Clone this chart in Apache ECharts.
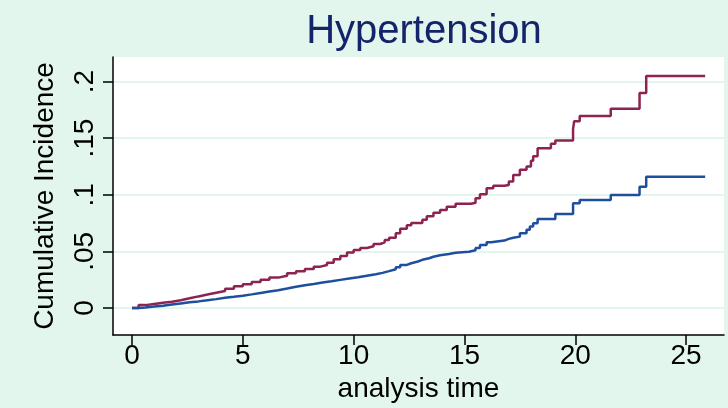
<!DOCTYPE html>
<html>
<head>
<meta charset="utf-8">
<script src="https://cdn.jsdelivr.net/npm/echarts@6/dist/echarts.min.js"></script>
<style>
  html, body { margin: 0; padding: 0; background: #e3f6ed; }
  #chart { width: 728px; height: 408px; }
</style>
</head>
<body>
<div id="chart"></div>
<script>
// Cumulative incidence curves (step functions)
const timeRed = [0, 0.3, 0.6, 1.0, 1.4, 1.8, 2.2, 2.6, 3.0, 3.4, 3.8, 4.2, 4.6, 5.0, 5.4, 5.8, 6.2, 6.6, 7.0, 7.4, 7.8, 8.2, 8.5, 8.8, 9.1, 9.4, 9.7, 10.0, 10.3, 10.6, 10.9, 11.2, 11.4, 11.6, 11.9, 12.1, 12.4, 12.6, 13.1, 13.3, 13.6, 13.9, 14.2, 14.6, 15.3, 15.5, 15.7, 16.0, 16.3, 16.8, 17.0, 17.2, 17.5, 17.8, 18.0, 18.1, 18.3, 18.9, 19.1, 19.9, 19.95, 20.2, 21.6, 22.9, 23.2, 25.86];
const valRed  = [0, 0.0025, 0.0035, 0.0045, 0.0055, 0.0068, 0.0085, 0.0102, 0.0118, 0.0135, 0.015, 0.017, 0.0192, 0.021, 0.023, 0.025, 0.0268, 0.0285, 0.0306, 0.0325, 0.0345, 0.0365, 0.038, 0.040, 0.043, 0.046, 0.049, 0.0512, 0.053, 0.0545, 0.0565, 0.058, 0.060, 0.062, 0.066, 0.070, 0.073, 0.075, 0.078, 0.081, 0.084, 0.0866, 0.0895, 0.092, 0.093, 0.097, 0.1004, 0.1057, 0.108, 0.1087, 0.1116, 0.1175, 0.122, 0.125, 0.130, 0.134, 0.141, 0.145, 0.148, 0.158, 0.165, 0.1696, 0.176, 0.190, 0.205, 0.205];

const timeBlue = [0, 0.3, 0.6, 1.0, 1.4, 1.8, 2.2, 2.6, 3.0, 3.4, 3.8, 4.2, 4.6, 5.0, 5.4, 5.8, 6.2, 6.6, 7.0, 7.4, 7.8, 8.2, 8.6, 9.0, 9.4, 9.8, 10.2, 10.6, 11.0, 11.3, 11.6, 11.9, 12.1, 12.4, 12.6, 12.9, 13.1, 13.4, 13.6, 13.9, 14.3, 14.6, 15.2, 15.5, 15.7, 16.0, 16.2, 16.8, 17.0, 17.2, 17.5, 17.8, 17.95, 18.1, 18.3, 19.1, 19.9, 20.2, 21.6, 22.9, 23.2, 25.86];
const valBlue  = [0, 0.0005, 0.0012, 0.002, 0.003, 0.004, 0.005, 0.0058, 0.0068, 0.0078, 0.009, 0.0098, 0.0108, 0.012, 0.0133, 0.0145, 0.0157, 0.0172, 0.0188, 0.020, 0.0212, 0.0225, 0.0236, 0.0248, 0.026, 0.0272, 0.0285, 0.0298, 0.031, 0.0325, 0.0342, 0.036, 0.038, 0.0395, 0.041, 0.0425, 0.0439, 0.0452, 0.0465, 0.0477, 0.0487, 0.0497, 0.051, 0.053, 0.0557, 0.058, 0.0595, 0.061, 0.062, 0.063, 0.066, 0.069, 0.072, 0.0748, 0.0786, 0.083, 0.0925, 0.0954, 0.0998, 0.107, 0.116, 0.116];

const xTicks = [0, 5, 10, 15, 20, 25];
const yTicks = [0, 0.05, 0.1, 0.15, 0.2];

const chart = echarts.init(document.getElementById('chart'));

const pairs = (ts, vs) => ts.map((t, i) => [t, vs[i]]);
const stataNum = v => (v === 0 ? '0' : String(v).replace(/^0/, ''));

const axisFont = { fontFamily: 'Liberation Sans', fontSize: 28, color: '#000' };

chart.setOption({
    backgroundColor: '#e3f6ed',
    animation: false,
    title: {
        text: 'Hypertension',
        left: 419,
        textAlign: 'center',
        top: 7,
        textStyle: { fontFamily: 'Liberation Sans', fontSize: 40, fontWeight: 'normal', color: '#13246b' }
    },
    grid: {
        left: 113, right: 4, top: 57, bottom: 73,
        outerBoundsMode: 'none',
        containLabel: false,
        show: true, backgroundColor: '#ffffff', borderWidth: 0
    },
    xAxis: {
        type: 'value',
        min: -0.857, max: 26.71,
        name: 'analysis time',
        nameLocation: 'middle',
        nameGap: 38,
        nameTextStyle: axisFont,
        axisLine: { show: true, onZero: false, lineStyle: { color: '#000', width: 1.5 } },
        axisTick: { show: true, length: 10, customValues: xTicks, lineStyle: { color: '#000', width: 1.5 } },
        axisLabel: { customValues: xTicks, margin: 7, ...axisFont },
        splitLine: { show: false }
    },
    yAxis: {
        type: 'value',
        min: -0.0239, max: 0.2217,
        name: 'Cumulative Incidence',
        nameLocation: 'middle',
        nameRotate: 90,
        nameGap: 54,
        nameTextStyle: axisFont,
        axisLine: { show: true, onZero: false, lineStyle: { color: '#000', width: 1.5 } },
        axisTick: { show: true, length: 10, customValues: yTicks, lineStyle: { color: '#000', width: 1.5 } },
        axisLabel: { customValues: yTicks, rotate: 90, margin: 14, formatter: stataNum, ...axisFont },
        splitLine: { show: true, lineStyle: { color: '#e3f6ed', width: 2 } }
    },
    series: [
        {
            type: 'line', step: 'end', showSymbol: false,
            data: pairs(timeRed, valRed),
            lineStyle: { color: '#8c2350', width: 2.5 }
        },
        {
            type: 'line', step: 'end', showSymbol: false,
            data: pairs(timeBlue, valBlue),
            lineStyle: { color: '#1d4f9c', width: 2.5 }
        }
    ]
});

window.addEventListener('resize', () => chart.resize());
</script>
</body>
</html>
